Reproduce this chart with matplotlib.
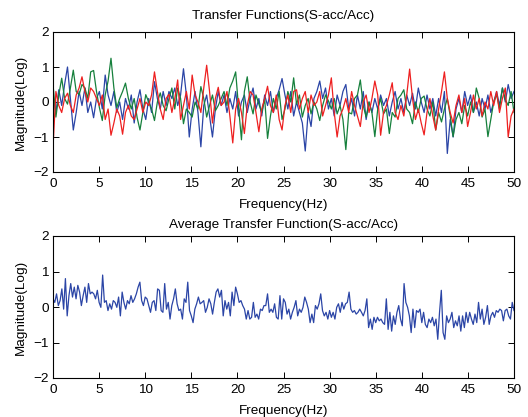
import numpy as np
import matplotlib
matplotlib.use("Agg")
import matplotlib.pyplot as plt

plt.rcParams['font.family'] = ['Liberation Sans', 'DejaVu Sans']

# ---- data ----
blue = [0.2, -0.3, 0.35, -0.1, 0.5, 1.0, 0.1, -0.8, -0.3, 0.3, -0.1, 0.4, -0.3, 0.0, -0.45, 0.1, 0.3, -0.2, 0.77, 0.2,
        -0.1, 0.3, -0.3, 0.0, -0.5, 0.1, -0.2, 0.2, -0.6, 0.0, 0.35, -0.2, -0.5, 0.1, -0.3, 0.58, 0.1, -0.2, 0.3, -0.1,
        0.3, 0.1, 0.4, -0.1, 0.2, 0.95, 0.2, -1.0, -0.2, 0.3, -0.3, -1.28, -0.1, 0.2, -0.4, -1.0, -0.2, 0.3, -0.1, 0.2,
        -0.3, 0.1, -0.2, 0.3, -0.4, 0.0, 0.2, -0.3, 0.1, 0.4, -0.2, 0.1, -0.4, 0.2, -0.1, 0.3, -0.3, 0.1, 0.35, 0.67,
        0.2, -0.2, 0.3, -0.4, 0.0, -0.3, -0.6, -1.4, -0.3, -0.7, 0.1, 0.3, 0.6, 0.1, 0.4, -0.2, 0.1, -0.4, 0.2, -0.1,
        0.3, 0.5, -0.2, 0.1, -0.4, 0.2, -0.2, 0.3, -0.5, 0.0, -0.3, 0.1, -0.2, 0.2, -0.1, 0.1, -0.4, 0.0, 0.3, -0.2,
        0.1, -0.3, 0.2, -0.1, 0.25, -0.2, 0.4, 0.0, -0.3, 0.2, -0.2, 0.1, -0.4, 0.1, -0.3, 0.3, -1.47, -0.5, -1.0, -0.2,
        0.1, -0.3, 0.3, -0.1, 0.2, -0.3, 0.0, -0.4, 0.1, -0.2, 0.2, -0.3, 0.0, 0.3, -0.1, 0.4, 0.0, 0.5, 0.1, 0.3]

red = [-1.3, 0.3, -0.1, -0.3, 0.1, 0.25, -0.1, -0.3, 0.2, 0.4, 0.72, 0.3, 0.0, 0.4, 0.3, 0.1, -0.1, 0.2, -0.5, -0.2,
       -0.95, -0.6, -0.2, -0.4, -0.92, -0.3, -0.1, -0.4, -0.5, -0.2, 0.1, -0.3, 0.0, -0.1, 0.2, 0.86, 0.3, -0.2, -0.5, 0.1,
       0.22, -0.3, 0.1, 0.63, -0.5, -0.1, 0.3, -0.2, 0.77, 0.2, 0.0, -0.3, 0.4, 1.05, 0.3, -0.6, 0.1, 0.42, -0.1, 0.0,
       0.3, -0.4, -1.17, -0.2, 0.1, -0.3, -0.9, -0.1, 0.3, 0.2, -0.3, -0.85, -0.2, 0.1, 0.45, -0.1, -0.3, 0.2, -0.5, -0.8,
       -0.1, 0.2, -0.3, 0.3, 0.35, -0.2, 0.1, 0.3, -0.3, 0.2, -0.1, 0.0, 0.3, -0.4, -0.1, 0.2, 0.69, -0.3, -1.0, -0.4,
       -0.2, 0.1, -0.3, 0.3, -0.1, -0.4, -0.7, 0.0, 0.2, -0.3, 0.1, 0.6, 0.2, -0.95, -0.3, -0.1, 0.2, 0.55, -0.3, -0.5,
       -0.1, -0.4, 0.2, 0.94, 0.1, -0.5, -0.2, -0.6, -0.94, -0.3, 0.1, -0.4, -0.8, -0.2, 0.3, 0.86, 0.1, -0.3, -0.6, -0.1,
       0.2, -0.3, 0.1, -0.7, -0.3, 0.2, -0.2, 0.1, -0.4, 0.0, -0.2, 0.3, -0.1, 0.3, -0.3, 0.1, 0.4, -1.0, -0.4, -0.2]

green = [0.5, -0.43, 0.2, 0.68, 0.1, -0.06, 0.4, 0.91, 0.3, 0.21, 0.5, 0.4, 0.1, 0.86, 0.9, 0.3, -0.16, -0.53, 0.2, 0.6,
         1.25, 0.4, -0.16, 0.1, 0.3, 0.54, 0.1, -0.2, 0.1, -0.44, -0.8, -0.3, 0.21, 0.0, -0.2, -0.53, 0.0, 0.26, -0.1, -0.25,
         0.1, 0.4, -0.2, 0.4, 0.1, -0.62, -0.2, -0.3, -0.43, 0.0, -0.2, 0.44, 0.1, -0.43, -0.1, 0.2, -0.25, -0.1, 0.1, 0.3,
         -0.1, 0.4, 0.6, 0.86, -0.16, -1.08, 0.3, 0.72, 0.0, -0.34, 0.2, -0.06, -0.3, 0.1, -1.04, -0.4, 0.1, -0.2, 0.3, -0.5,
         -0.2, 0.3, 0.0, 0.69, -0.06, 0.2, -0.43, -0.1, 0.1, -0.34, 0.0, -0.2, -0.53, -0.1, 0.2, 0.03, -0.2, 0.1, -0.34, -0.1,
         -0.5, -1.36, -0.3, -0.34, 0.1, 0.2, 0.63, -0.1, -0.43, 0.0, -0.3, -0.99, -0.2, 0.1, -0.34, -0.2, -0.9, -0.3, -0.43, 0.1,
         0.2, 0.35, -0.2, -0.3, -0.62, 0.0, -0.3, 0.1, 0.17, -0.2, -0.4, 0.0, -0.8, -0.3, -0.57, -0.2, 0.1, -0.4, -0.99, -0.5,
         -0.3, -0.62, -0.1, -0.4, 0.0, -0.3, 0.4, 0.1, -0.43, -0.2, -0.99, -0.5, 0.0, 0.21, -0.2, 0.4, 0.07, -0.1, 0.3, -0.3]

average = [0.23, 0.13, 0.37, 0.04, 0.18, 0.51, -0.06, 0.80, -0.25, 0.32, 0.66, 0.28, 0.56, 0.23, 0.61, 0.42, 0.04, 0.32,
           0.56, 0.13, 0.66, 0.37, 0.42, 0.37, 0.23, 0.47, 0.13, -0.01, 0.90, 0.13, 0.18, -0.10, 0.09, -0.06, 0.18, 0.13,
           -0.01, 0.28, -0.25, 0.42, 0.13, -0.06, 0.18, 0.09, 0.32, 0.13, 0.23, 0.37, 0.56, 0.70, 0.18, 0.04, 0.28, 0.23,
           0.04, -0.15,
           0.13, 0.18, -0.10, 0.51, 0.47, -0.10, -0.15, 0.66, -0.06, 0.13, -0.34, 0.04, 0.23, 0.51, 0.09, -0.10, -0.06,
           -0.34, 0.23, 0.13, 0.70, -0.10, -0.25, -0.44, -0.06, 0.09, 0.28, 0.09, 0.13, 0.18, -0.15, -0.01, 0.23, 0.09,
           -0.20, 0.13, 0.42, 0.51, 0.28, 0.47, -0.25, 0.18, -0.06, 0.13, -0.25, 0.42, 0.04, 0.56, 0.37, 0.13, 0.18, 0.04,
           -0.06, -0.34, -0.10, -0.34, -0.29, 0.13, -0.29, -0.20, -0.34, -0.06, -0.10, 0.04,
           0.04, 0.37, -0.15, -0.06, -0.15, 0.09, -0.29, -0.34, 0.32, -0.34, 0.23, 0.13, -0.20, -0.06, -0.34, -0.15, -0.01,
           0.18, -0.25, -0.06, -0.15, -0.01, 0.28, 0.13, -0.06, -0.44, -0.20, -0.44, 0.04, -0.06, 0.09, 0.37, -0.10, -0.25,
           -0.15, -0.34, -0.10, -0.29, -0.15, -0.34, -0.01, 0.09, -0.15, 0.13, -0.06, 0.09, 0.13, 0.42, -0.06, -0.15, -0.10,
           -0.20, -0.15, -0.06, -0.15, -0.25, -0.10, 0.23, -0.58, -0.34, -0.63, -0.29, -0.44, -0.29, -0.39, -0.34,
           -0.44, -0.49, 0.23, -0.63, -0.15, -0.68, -0.25, -0.49, -0.15, 0.04, -0.34, -0.53, 0.66, 0.13, -0.01, -0.25, -0.72,
           -0.06, -0.58, -0.10, -0.15, -0.06, -0.44, -0.15, -0.49, -0.58, -0.34, -0.44, -0.29, -0.53, -0.34, -0.91, -0.15,
           0.47, -0.72, -0.91, -0.25, -0.44, -0.34, -0.15, -0.58, -0.39, -0.53, -0.25, -0.68, -0.25, -0.58, -0.15, -0.44,
           -0.15, -0.34, -0.49, -0.20, -0.44, 0.13, -0.34, -0.06, -0.49, -0.29, 0.04, -0.49, -0.25, -0.15, -0.29, -0.10,
           -0.15, -0.06, -0.10, -0.39, -0.10, -0.06, -0.25, -0.34, 0.13, -0.10]

x_ticks = [0, 5, 10, 15, 20, 25, 30, 35, 40, 45, 50]
y_ticks = [-2, -1, 0, 1, 2]
top_title = "Transfer Functions(S-acc/Acc)"
bottom_title = "Average Transfer Function(S-acc/Acc)"
x_label = "Frequency(Hz)"
y_label = "Magnitude(Log)"

# ---- figure ----
W, H = 528, 417
fig = plt.figure(figsize=(W / 100, H / 100), dpi=100)
fs = 9.7

def px_axes(left, top, right, bottom):
    return fig.add_axes([left / W, 1 - bottom / H, (right - left) / W, (bottom - top) / H])

ax1 = px_axes(53, 32, 514, 172)
ax2 = px_axes(53, 236, 514, 378)

def freq(vals):
    return np.linspace(0, 50, len(vals))

ax1.plot(freq(blue), blue, color='#2b45a6', lw=0.9)
ax1.plot(freq(green), green, color='#16803c', lw=0.9)
ax1.plot(freq(red), red, color='#ee2020', lw=0.9)
ax2.plot(freq(average), average, color='#2b45a6', lw=0.9)

for ax, title, tpad in ((ax1, top_title, 9.5), (ax2, bottom_title, 6)):
    ax.set_xlim(0, 50)
    ax.set_ylim(-2, 2)
    ax.set_xticks(x_ticks)
    ax.set_yticks(y_ticks)
    ax.tick_params(axis='x', pad=4.5)
    ax.tick_params(direction='in', top=True, right=True, length=4, width=0.7,
                   labelsize=fs)
    ax.tick_params(axis='y', pad=3)
    for s in ax.spines.values():
        s.set_linewidth(0.8)
    ax.set_title(title, fontsize=fs, pad=tpad)
    ax.set_xlabel(x_label, fontsize=fs, labelpad=6)
    ax.set_ylabel(y_label, fontsize=fs, labelpad=5)

fig.savefig("out.png", dpi=100)
